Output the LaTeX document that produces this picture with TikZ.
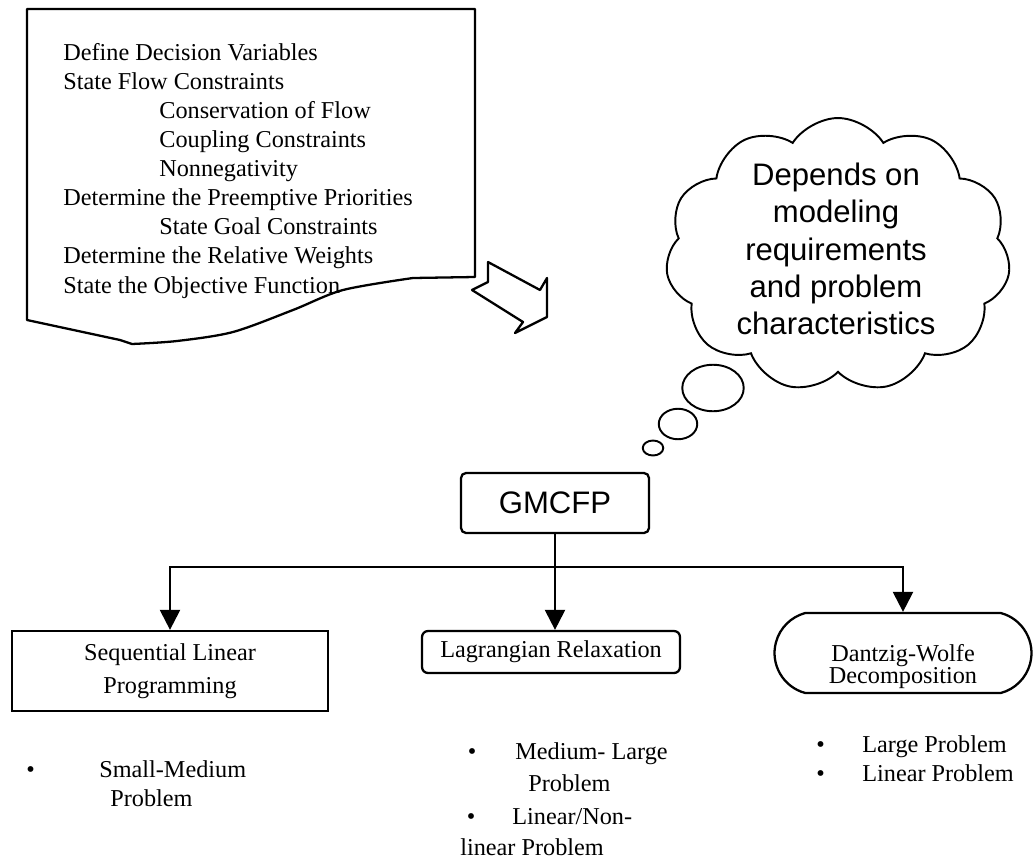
\documentclass[tikz,border=0pt]{standalone}
\usepackage{fontspec}
\setmainfont{Liberation Serif}
\newfontfamily\arialfont{Liberation Sans}
\usetikzlibrary{arrows.meta,shapes,positioning}

\newcommand{\textsz}{\fontsize{13.8pt}{16.1pt}\selectfont}
\newcommand{\bigsz}{\arialfont\fontsize{17.7pt}{21.3pt}\selectfont}

\begin{document}
\begin{tikzpicture}[x=0.02cm,y=-0.02cm,
    outline/.style={line width=1.3pt,line join=round},
    link/.style={line width=1.3pt},
    flow/.style={line width=1.3pt,-{Triangle[length=0.4cm,width=0.4cm]}},
    method/.style={draw,line width=1.3pt,font=\textsz,align=center,inner sep=0pt},
    notes/.style={font=\textsz,align=left,inner sep=0pt,anchor=base west},
    bubble/.style={ellipse,draw,line width=1.1pt,inner sep=0pt}]
  \useasboundingbox (0,0) rectangle (1034,862);

  % the sheet with the modelling steps (notes are placed at their last baseline)
  \draw[outline] (27,9) -- (475,9) -- (475,277) -- (413,278)
    -- plot[smooth] coordinates {(413,278) (343,290) (293,310) (233,332) (177,341) (132,344)}
    -- (120,340) -- (27,320) -- cycle;
  \node[notes,font=\fontsize{13.8pt}{16.55pt}\selectfont] (steps) at (63,293)
    {Define Decision Variables\\
    State Flow Constraints\\
    \hspace*{1.92cm}Conservation of Flow\\
    \hspace*{1.92cm}Coupling Constraints\\
    \hspace*{1.92cm}Nonnegativity\\
    Determine the Preemptive Priorities\\
    \hspace*{1.92cm}State Goal Constraints\\
    Determine the Relative Weights\\
    State the Objective Function};

  % block arrow
  \draw[outline] (488,262) -- (540,290) -- (547,278) -- (547,317) -- (515,333)
    -- (523,322) -- (472,290) -- (488,282) -- cycle;

  % thought cloud
  \node[cloud,draw,line width=1.1pt,cloud puffs=11,cloud puff arc=115,
    cloud ignores aspect,minimum width=6.9cm,minimum height=5.48cm] (idea) at (838,255) {};
  \node[font=\bigsz,align=center,inner sep=0pt] (ideatext) at (836,249)
    {Depends on\\ modeling\\ requirements\\ and problem\\ characteristics};
  \node[bubble,minimum width=1.23cm,minimum height=0.93cm] (bubbig) at (713,388) {};
  \node[bubble,minimum width=0.77cm,minimum height=0.61cm] (bubmid) at (678,424) {};
  \node[bubble,minimum width=0.41cm,minimum height=0.3cm] (bubsmall) at (653,448) {};

  % problem and solution methods
  \node[draw,line width=1.3pt,rounded corners=0.1cm,font=\bigsz,
    minimum width=3.76cm,minimum height=1.2cm] (gmcfp) at (555,503) {GMCFP};
  \node[method,minimum width=6.32cm,minimum height=1.6cm] (seq) at (170,671)
    {Sequential Linear\\[2.7pt] Programming};
  \node[method,rounded corners=0.12cm,minimum width=5.16cm,minimum height=0.84cm] (lagr)
    at (551,652) {Lagrangian Relaxation};
  \node[method,rounded rectangle,rounded rectangle arc length=150,
    minimum width=5.14cm,minimum height=1.6cm] (dw) at (903,653)
    {\rule{0pt}{0.89cm}Dantzig-Wolfe\\[-3.8pt] Decomposition};

  \coordinate (split) at (555,567);
  \draw[link] (gmcfp.south) -- (split);
  \draw[flow] (split) -| (seq.north);
  \draw[flow] (split) -- (split |- lagr.north);
  \draw[flow] (split) -| (dw.north);

  % notes under the methods
  \node[notes] (seqnotes) at (26,806)
    {\makebox[1.46cm][l]{\textbullet}Small-Medium\\[0.4pt]
     \hspace*{1.68cm}Problem};
  \node[notes] (lagrnotes) at (460,855)
    {\hspace*{0.15cm}\makebox[0.95cm][l]{\textbullet}Medium- Large\\[2.1pt]
     \hspace*{1.36cm}Problem\\[2.7pt]
     \hspace*{0.13cm}\makebox[0.91cm][l]{\textbullet}Linear/Non-\\[1pt]
     linear Problem};
  \node[notes] (dwnotes) at (816,781)
    {\makebox[0.92cm][l]{\textbullet}Large Problem\\
     \makebox[0.92cm][l]{\textbullet}Linear Problem};
\end{tikzpicture}
\end{document}
